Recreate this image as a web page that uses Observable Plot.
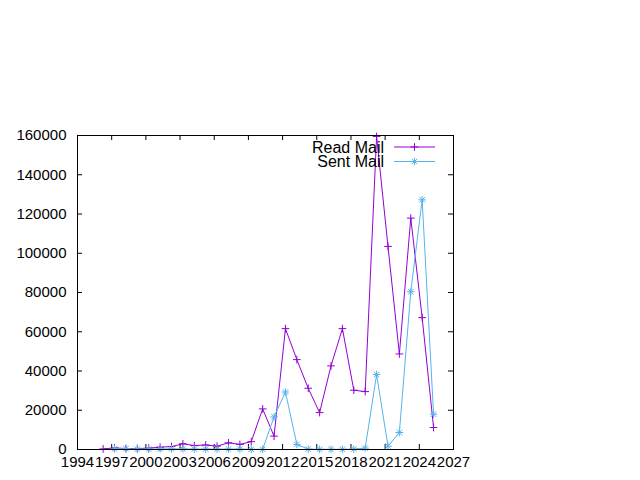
<!DOCTYPE html>
<html><head><meta charset="utf-8">
<script src="https://cdn.jsdelivr.net/npm/d3@7"></script>
<script src="https://cdn.jsdelivr.net/npm/@observablehq/plot@0.6"></script>
<style>html,body{margin:0;padding:0;background:#fff} svg{display:block}</style>
</head><body><div id="chart"></div>
<script>
// Data
const readYears = [1996.25,1997.25,1998.25,1999.25,2000.25,2001.25,2002.25,2003.25,2004.25,2005.25,2006.25,2007.25,2008.25,2009.25,2010.25,2011.25,2012.25,2013.25,2014.25,2015.25,2016.25,2017.25,2018.25,2019.25,2020.25,2021.25,2022.25,2023.25,2024.25,2025.25];
const readMail = [300,800,500,500,700,1200,1500,2900,2000,2300,1700,3400,2600,4000,20700,6800,61600,45800,31200,18800,42600,61600,30200,29500,159500,103500,48700,117900,67200,11200];
const sentYears = [1997.25,1998.25,1999.25,2000.25,2001.25,2002.25,2003.25,2004.25,2005.25,2006.25,2007.25,2008.25,2009.25,2010.25,2011.25,2012.25,2013.25,2014.25,2015.25,2016.25,2017.25,2018.25,2019.25,2020.25,2021.25,2022.25,2023.25,2024.25,2025.25];
const sentMail = [300,400,200,200,300,300,300,200,200,200,200,200,100,100,16600,29300,2600,200,100,100,100,200,700,38200,1700,8650,80400,127200,18000];
const xTicks = [1994,1997,2000,2003,2006,2009,2012,2015,2018,2021,2024,2027];
const yTicks = [0,20000,40000,60000,80000,100000,120000,140000,160000];
const seriesNames = ["Read Mail","Sent Mail"];
const seriesColors = ["#9400d3","#56b4e9"];

const read = readYears.map((x, i) => ({x, y: readMail[i]}));
const sent = sentYears.map((x, i) => ({x, y: sentMail[i]}));

const W = 640, H = 480, mL = 77, mR = 187, mT = 135, mB = 31;
const innerH = H - mT - mB, innerW = W - mL - mR;
const tk = 5;
const font = "'Liberation Sans', Arial, sans-serif";
const fs = 15;
const legendFs = 16;
const r = 2.6;

const chart = Plot.plot({
  width: W, height: H,
  marginLeft: mL, marginRight: mR, marginTop: mT, marginBottom: mB,
  style: {fontFamily: font, fontSize: fs + "px", color: "#000", background: "#fff", overflow: "visible"},
  x: {domain: [1994, 2027]},
  y: {domain: [0, 160000]},
  marks: [
    Plot.axisX(xTicks, {tickSize: 0, tickPadding: 7, tickFormat: d => String(d), label: null, fontSize: fs}),
    Plot.axisY(yTicks, {tickSize: 0, tickPadding: 11, tickFormat: d => String(d), label: null, fontSize: fs}),
    Plot.tickX(xTicks, {x: d => d, insetTop: innerH - tk, stroke: "#000"}),
    Plot.tickX(xTicks, {x: d => d, insetBottom: innerH - tk, stroke: "#000"}),
    Plot.tickY(yTicks, {y: d => d, insetRight: innerW - tk, stroke: "#000"}),
    Plot.tickY(yTicks, {y: d => d, insetLeft: innerW - tk, stroke: "#000"}),
    Plot.line(read, {x: "x", y: "y", stroke: seriesColors[0], strokeWidth: 1}),
    Plot.dot(read, {x: "x", y: "y", symbol: "plus", r, stroke: seriesColors[0], strokeWidth: 1}),
    Plot.line(sent, {x: "x", y: "y", stroke: seriesColors[1], strokeWidth: 1}),
    Plot.dot(sent, {x: "x", y: "y", symbol: "plus", r, stroke: seriesColors[1], strokeWidth: 1}),
    Plot.dot(sent, {x: "x", y: "y", symbol: "times", r, stroke: seriesColors[1], strokeWidth: 1}),
    Plot.frame({stroke: "#000", strokeWidth: 1})
  ]
});
document.getElementById("chart").appendChild(chart);

// Legend inside the frame, top-right (gnuplot style)
const svg = d3.select(chart);
const right = W - mR;
const g = svg.append("g").attr("font-family", font).attr("font-size", legendFs);
const size = r * r * Math.PI;
seriesNames.forEach((name, i) => {
  const yy = mT + 12 + i * 14.5;
  g.append("text").attr("x", right - 69).attr("y", yy).attr("dy", "0.35em")
    .attr("text-anchor", "end").attr("fill", "#000").text(name);
  g.append("line").attr("x1", right - 59).attr("x2", right - 18).attr("y1", yy).attr("y2", yy)
    .attr("stroke", seriesColors[i]).attr("stroke-width", 1);
  const syms = i === 0 ? [d3.symbolPlus] : [d3.symbolPlus, d3.symbolTimes];
  syms.forEach(s => {
    g.append("path").attr("d", d3.symbol(s, size)())
      .attr("transform", `translate(${right - 38.5},${yy})`)
      .attr("fill", "none").attr("stroke", seriesColors[i]).attr("stroke-width", 1);
  });
});
</script>
</body></html>
